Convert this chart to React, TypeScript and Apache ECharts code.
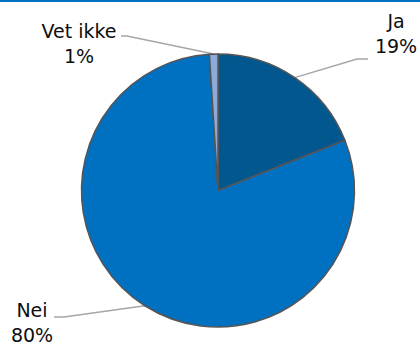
import React, { useEffect, useRef } from "react";
import * as echarts from "echarts";

const categories = ["Ja", "Nei", "Vet ikke"];
const values = [19, 80, 1];
const colors = ["#02578F", "#0070C0", "#8EAADB"];

// label anchor (center of label block) and elbow points, per category
const labelPos: Record<string, { x: number; y: number; elbow: number[]; end: number[] }> = {
  Ja: { x: 396, y: 33, elbow: [357, 59], end: [368, 59] },
  Nei: { x: 32, y: 322, elbow: [64, 317], end: [54, 317] },
  "Vet ikke": { x: 79, y: 43, elbow: [127, 36], end: [121, 36] },
};

export default function App() {
  const ref = useRef<HTMLDivElement>(null);
  useEffect(() => {
    if (!ref.current) return;
    const chart = echarts.init(ref.current, null, { renderer: "svg" });
    chart.setOption({
      animation: false,
      backgroundColor: "#ffffff",
      graphic: [
        {
          type: "rect",
          left: 0,
          top: 0,
          shape: { width: 420, height: 2 },
          style: { fill: "#0070C0" },
        },
      ],
      series: [
        {
          type: "pie",
          center: [218, 190.5],
          radius: 136.5,
          startAngle: 90,
          clockwise: true,
          data: categories.map((c, i) => ({
            name: c,
            value: values[i],
            itemStyle: { color: colors[i] },
          })),
          itemStyle: { borderColor: "#555555", borderWidth: 1.5 },
          label: {
            show: true,
            formatter: "{b}\n{d}%",
            fontFamily: "DejaVu Sans",
            fontSize: 19,
            lineHeight: 25,
            color: "#0d0d0d",
            align: "center",
          },
          labelLine: {
            show: true,
            lineStyle: { color: "#A6A6A6", width: 1.5 },
          },
          labelLayout: (params: any) => {
            const name = categories[params.dataIndex];
            const p = labelPos[name];
            const start = params.labelLinePoints ? params.labelLinePoints[0] : p.elbow;
            return {
              x: p.x,
              y: p.y,
              align: "center",
              verticalAlign: "middle",
              labelLinePoints: [start, p.elbow, p.end],
            };
          },
        },
      ],
    });
    return () => chart.dispose();
  }, []);
  return (
    <div
      ref={ref}
      style={{ position: "fixed", left: 0, top: 0, width: 420, height: 345 }}
    />
  );
}
